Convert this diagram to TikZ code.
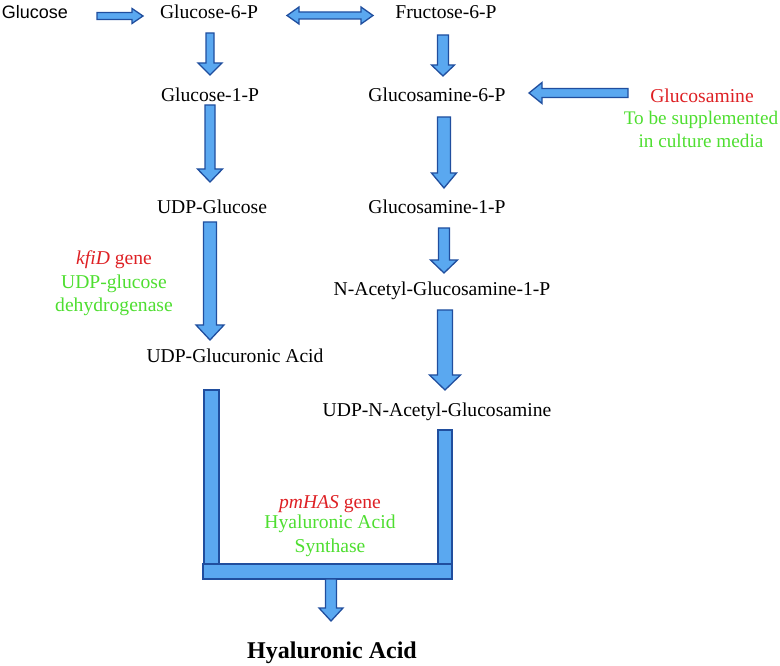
\documentclass[tikz,border=0pt]{standalone}
\usepackage{fontspec}
\setmainfont{Liberation Serif}
\newfontfamily\arialfont{Liberation Sans}
\usepackage{xcolor}
\definecolor{arrowfill}{RGB}{90,168,240}
\definecolor{arrowline}{RGB}{32,78,158}
\definecolor{genered}{RGB}{222,32,36}
\definecolor{enzgreen}{RGB}{78,222,48}
\newcommand\DownArrow[5]{
  % #1 top, #2 tip, #3 half shaft, #4 half head, #5 head length
  \filldraw[blockarrow] let \p1=(#1), \p2=(#2) in
  (\x1-#3pt,\y1) -- (\x1+#3pt,\y1) -- (\x1+#3pt,\y2+#5pt) --
  (\x1+#4pt,\y2+#5pt) -- (\x1,\y2) -- (\x1-#4pt,\y2+#5pt) --
  (\x1-#3pt,\y2+#5pt) -- cycle;
}
\newcommand\SideArrow[5]{
  % #1 tail, #2 tip, works both ways
  \filldraw[blockarrow] let \p1=(#1), \p2=(#2), \n1={sign(\x1-\x2)} in
  (\x1,\y1-#3pt) -- (\x1,\y1+#3pt) -- (\x2+\n1*#5pt,\y1+#3pt) --
  (\x2+\n1*#5pt,\y1+#4pt) -- (\x2,\y1) -- (\x2+\n1*#5pt,\y1-#4pt) --
  (\x2+\n1*#5pt,\y1-#3pt) -- cycle;
}
\newcommand\BothArrow[5]{
  \filldraw[blockarrow] let \p1=(#1), \p2=(#2) in
  (\x1,\y1) -- (\x1+#5pt,\y1+#4pt) -- (\x1+#5pt,\y1+#3pt) --
  (\x2-#5pt,\y1+#3pt) -- (\x2-#5pt,\y1+#4pt) -- (\x2,\y1) --
  (\x2-#5pt,\y1-#4pt) -- (\x2-#5pt,\y1-#3pt) -- (\x1+#5pt,\y1-#3pt) --
  (\x1+#5pt,\y1-#4pt) -- cycle;
}
\usetikzlibrary{calc}
\begin{document}
\begin{tikzpicture}[x=1pt, y=1pt,
  metab/.style={font=\fontsize{19.6}{23}\selectfont, anchor=base, inner sep=0pt, align=center},
  gene/.style={metab, text=genered},
  enzyme/.style={metab, text=enzgreen},
  blockarrow/.style={fill=arrowfill, draw=arrowline, line width=1.3pt, line join=miter}]
\useasboundingbox (0,0) rectangle (780,665);

% metabolites
\node[metab, font=\arialfont\fontsize{18}{22}\selectfont] (glc) at (35,646) {Glucose};
\node[metab] (g6p) at (209,646) {Glucose-6-P};
\node[metab] (f6p) at (446,646) {Fructose-6-P};
\node[metab] (g1p) at (210,563) {Glucose-1-P};
\node[metab] (gn6p) at (437,563) {Glucosamine-6-P};
\node[metab] (udpg) at (212,451) {UDP-Glucose};
\node[metab] (gn1p) at (437,451) {Glucosamine-1-P};
\node[metab] (nacg) at (442,369) {N-Acetyl-Glucosamine-1-P};
\node[metab] (udpga) at (235,302) {UDP-Glucuronic Acid};
\node[metab] (udpnag) at (437,248) {UDP-N-Acetyl-Glucosamine};
\node[metab, font=\bfseries\fontsize{24}{28}\selectfont] (ha) at (332,7) {Hyaluronic Acid};

% side notes (base is the last line)
\node[gene] (gn) at (702,562) {Glucosamine};
\node[enzyme, font=\fontsize{19.2}{23}\selectfont] (media) at (701,517) {To be supplemented\\in culture media};
\node[gene] (kfid) at (114,400) {\textit{kfiD} gene};
\node[enzyme] (udpgdh) at (114,353) {UDP-glucose\\dehydrogenase};
\node[gene] (pmhas) at (330,157) {\textit{pmHAS} gene};
\node[enzyme] (has) at (330,113) {Hyaluronic Acid\\Synthase};

% arrow ends
\coordinate (a1) at (210,632); \coordinate (a1t) at (210,590);
\coordinate (a2) at (210,560); \coordinate (a2t) at (210,483);
\coordinate (a3) at (210,443); \coordinate (a3t) at (210,325);
\coordinate (b1) at (443,630); \coordinate (b1t) at (443,589);
\coordinate (b2) at (444,548); \coordinate (b2t) at (444,477);
\coordinate (b3) at (444,437); \coordinate (b3t) at (444,392);
\coordinate (b4) at (445,355); \coordinate (b4t) at (445,275);
\coordinate (h1) at (97,649); \coordinate (h1t) at (143,649);
\coordinate (h2) at (287,649.5); \coordinate (h2t) at (373,649.5);
\coordinate (h3) at (628,572); \coordinate (h3t) at (529,572);
\coordinate (c1) at (331,86); \coordinate (c1t) at (331,44);

\SideArrow{h1}{h1t}{3.5}{7.5}{11}
\BothArrow{h2}{h2t}{3.5}{8.5}{12}
\SideArrow{h3}{h3t}{4.5}{10.5}{13}

\DownArrow{a1}{a1t}{4}{12}{12}
\DownArrow{a2}{a2t}{5}{12.5}{13}
\DownArrow{a3}{a3t}{6.5}{14}{15}
\DownArrow{b1}{b1t}{5.5}{11.5}{11}
\DownArrow{b2}{b2t}{6.5}{12.5}{15}
\DownArrow{b3}{b3t}{5.5}{13.5}{13}
\DownArrow{b4}{b4t}{7.5}{15.5}{15}

% the joining bars
\coordinate (gabar) at (204,275); \coordinate (gabarb) at (219,93);
\coordinate (nagbar) at (438,235); \coordinate (nagbarb) at (452,93);
\coordinate (hasbar) at (203,101); \coordinate (hasbarb) at (452,86);
\filldraw[blockarrow] (gabar) rectangle (gabarb);
\filldraw[blockarrow] (nagbar) rectangle (nagbarb);
\filldraw[blockarrow] (hasbar) rectangle (hasbarb);

\DownArrow{c1}{c1t}{5.5}{12}{13}
\end{tikzpicture}
\end{document}
